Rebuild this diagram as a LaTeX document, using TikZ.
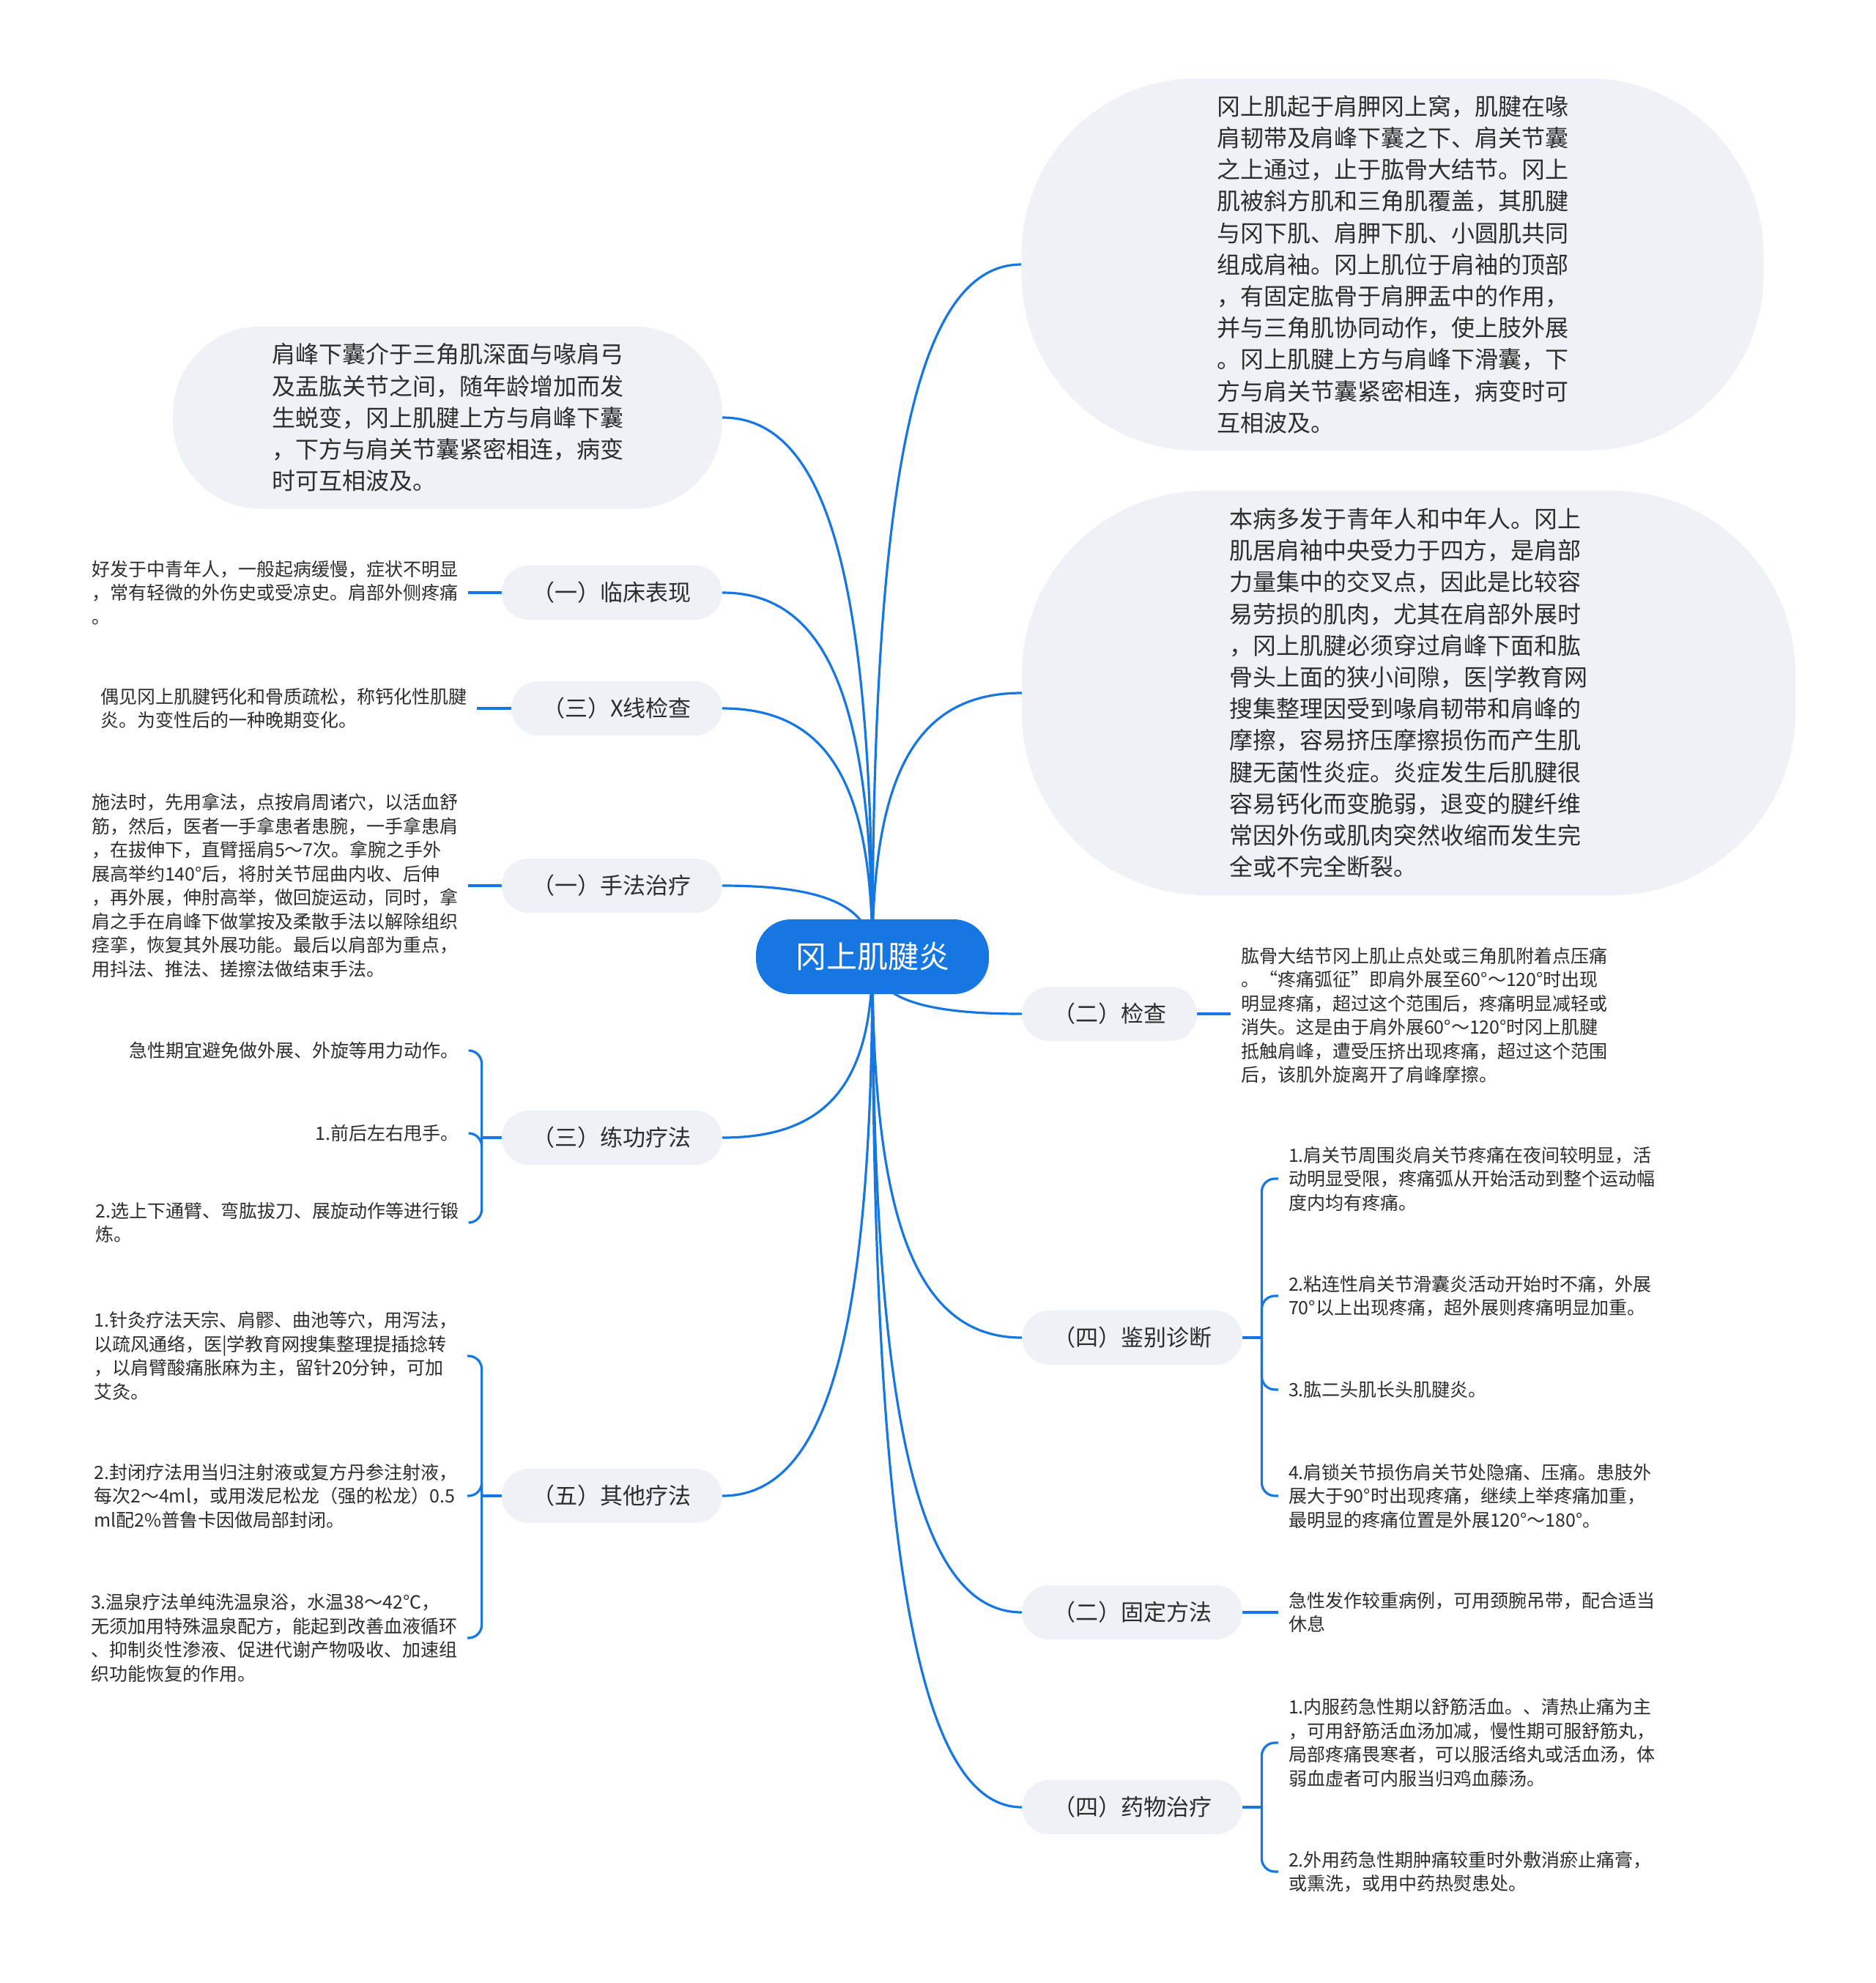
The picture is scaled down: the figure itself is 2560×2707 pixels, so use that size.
\documentclass[tikz,border=0pt]{standalone}
\usepackage{fontspec}
\setmainfont{Noto Sans CJK SC}
\usetikzlibrary{calc}
\definecolor{lineblue}{RGB}{22,119,226}
\definecolor{bubble}{RGB}{238,241,245}
\definecolor{txt}{RGB}{45,45,45}
\pgfdeclarelayer{bg}
\pgfsetlayers{bg,main}
\begin{document}
\begin{tikzpicture}[x=1pt,y=-1pt,
  rootnode/.style={fill=lineblue, rounded corners=48pt, minimum width=318pt, minimum height=102pt, text=white, font=\fontsize{42}{50}\selectfont},
  catnode/.style={fill=bubble, rounded corners=37pt, minimum height=74pt, inner xsep=42pt, inner ysep=0pt, text=txt, font=\fontsize{31}{37}\selectfont},
  bignode/.style={fill=bubble, align=left, text=txt, font=\fontsize{32}{43.2}\selectfont},
  leaf/.style={align=left, inner sep=0pt, outer xsep=14pt, text=txt, font=\fontsize{25}{32.5}\selectfont},
  conn/.style={draw=lineblue, line width=3.2pt},
  elbow/.style={to path={.. controls ($(\tikztostart)!0.7!(\tikztostart|-\tikztotarget)$) and ($(\tikztotarget)!0.7!(\tikztostart|-\tikztotarget)$) .. (\tikztotarget)}},
]
\begin{pgfonlayer}{bg}
\fill[white] (0,0) rectangle (2560,2707);
\end{pgfonlayer}
\useasboundingbox (0,0) rectangle (2560,2707);

% root
\node[rootnode] (root) at (1191,1306) {冈上肌腱炎};

% big bubbles
\node[bignode, minimum width=1013pt, minimum height=508pt, rounded corners=240pt] (r1) at (1901,361)
{冈上肌起于肩胛冈上窝，肌腱在喙\\肩韧带及肩峰下囊之下、肩关节囊\\之上通过，止于肱骨大结节。冈上\\肌被斜方肌和三角肌覆盖，其肌腱\\与冈下肌、肩胛下肌、小圆肌共同\\组成肩袖。冈上肌位于肩袖的顶部\\，有固定肱骨于肩胛盂中的作用，\\并与三角肌协同动作，使上肢外展\\。冈上肌腱上方与肩峰下滑囊，下\\方与肩关节囊紧密相连，病变时可\\互相波及。};

\node[bignode, minimum width=1056pt, minimum height=552pt, rounded corners=250pt] (r2) at (1923,946)
{本病多发于青年人和中年人。冈上\\肌居肩袖中央受力于四方，是肩部\\力量集中的交叉点，因此是比较容\\易劳损的肌肉，尤其在肩部外展时\\，冈上肌腱必须穿过肩峰下面和肱\\骨头上面的狭小间隙，医|学教育网\\搜集整理因受到喙肩韧带和肩峰的\\摩擦，容易挤压摩擦损伤而产生肌\\腱无菌性炎症。炎症发生后肌腱很\\容易钙化而变脆弱，退变的腱纤维\\常因外伤或肌肉突然收缩而发生完\\全或不完全断裂。};

\node[bignode, minimum width=750pt, minimum height=249pt, rounded corners=120pt] (l0) at (611,570)
{肩峰下囊介于三角肌深面与喙肩弓\\及盂肱关节之间，随年龄增加而发\\生蜕变，冈上肌腱上方与肩峰下囊\\，下方与肩关节囊紧密相连，病变\\时可互相波及。};

% category nodes left
\node[catnode, anchor=east] (c1) at (986,809) {（一）临床表现};
\node[catnode, anchor=east] (cx) at (986,967) {（三）X线检查};
\node[catnode, anchor=east] (cs) at (986,1209) {（一）手法治疗};
\node[catnode, anchor=east] (cl) at (986,1553) {（三）练功疗法};
\node[catnode, anchor=east] (cq) at (986,2042) {（五）其他疗法};
% category nodes right
\node[catnode, anchor=west] (c2) at (1395,1384) {（二）检查};
\node[catnode, anchor=west] (c4) at (1395,1826) {（四）鉴别诊断};
\node[catnode, anchor=west] (cg) at (1395,2201) {（二）固定方法};
\node[catnode, anchor=west] (cy) at (1395,2467) {（四）药物治疗};

% left leaves
\node[leaf, anchor=east] (t1) at (639,809) {好发于中青年人，一般起病缓慢，症状不明显\\，常有轻微的外伤史或受凉史。肩部外侧疼痛\\。};
\node[leaf, anchor=east] (tx) at (651,967) {偶见冈上肌腱钙化和骨质疏松，称钙化性肌腱\\炎。为变性后的一种晚期变化。};
\node[leaf, anchor=east] (ts) at (639,1209) {施法时，先用拿法，点按肩周诸穴，以活血舒\\筋，然后，医者一手拿患者患腕，一手拿患肩\\，在拔伸下，直臂摇肩5～7次。拿腕之手外\\展高举约140°后，将肘关节屈曲内收、后伸\\，再外展，伸肘高举，做回旋运动，同时，拿\\肩之手在肩峰下做掌按及柔散手法以解除组织\\痉挛，恢复其外展功能。最后以肩部为重点，\\用抖法、推法、搓擦法做结束手法。};
\node[leaf, anchor=east] (l1) at (640,1434) {急性期宜避免做外展、外旋等用力动作。};
\node[leaf, anchor=east] (l2) at (640,1547) {1.前后左右甩手。};
\node[leaf, anchor=east] (l3) at (640,1669) {2.选上下通臂、弯肱拔刀、展旋动作等进行锻\\炼。};
\node[leaf, anchor=east] (q1) at (638,1851) {1.针灸疗法天宗、肩髎、曲池等穴，用泻法，\\以疏风通络，医|学教育网搜集整理提插捻转\\，以肩臂酸痛胀麻为主，留针20分钟，可加\\艾灸。};
\node[leaf, anchor=east] (q2) at (638,2042) {2.封闭疗法用当归注射液或复方丹参注射液，\\每次2～4ml，或用泼尼松龙（强的松龙）0.5\\ml配2\%普鲁卡因做局部封闭。};
\node[leaf, anchor=east] (q3) at (638,2236) {3.温泉疗法单纯洗温泉浴，水温38～42℃，\\无须加用特殊温泉配方，能起到改善血液循环\\、抑制炎性渗液、促进代谢产物吸收、加速组\\织功能恢复的作用。};

% right leaves
\node[leaf, anchor=west] (t2) at (1680,1386) {肱骨大结节冈上肌止点处或三角肌附着点压痛\\。“疼痛弧征”即肩外展至60°～120°时出现\\明显疼痛，超过这个范围后，疼痛明显减轻或\\消失。这是由于肩外展60°～120°时冈上肌腱\\抵触肩峰，遭受压挤出现疼痛，超过这个范围\\后，该肌外旋离开了肩峰摩擦。};
\node[leaf, anchor=west] (d1) at (1745,1609) {1.肩关节周围炎肩关节疼痛在夜间较明显，活\\动明显受限，疼痛弧从开始活动到整个运动幅\\度内均有疼痛。};
\node[leaf, anchor=west] (d2) at (1745,1769) {2.粘连性肩关节滑囊炎活动开始时不痛，外展\\70°以上出现疼痛，超外展则疼痛明显加重。};
\node[leaf, anchor=west] (d3) at (1745,1897) {3.肱二头肌长头肌腱炎。};
\node[leaf, anchor=west] (d4) at (1745,2042) {4.肩锁关节损伤肩关节处隐痛、压痛。患肢外\\展大于90°时出现疼痛，继续上举疼痛加重，\\最明显的疼痛位置是外展120°～180°。};
\node[leaf, anchor=west] (tg) at (1745,2201) {急性发作较重病例，可用颈腕吊带，配合适当\\休息};
\node[leaf, anchor=west] (y1) at (1745,2379) {1.内服药急性期以舒筋活血。、清热止痛为主\\，可用舒筋活血汤加减，慢性期可服舒筋丸，\\局部疼痛畏寒者，可以服活络丸或活血汤，体\\弱血虚者可内服当归鸡血藤汤。};
\node[leaf, anchor=west] (y2) at (1745,2555) {2.外用药急性期肿痛较重时外敷消瘀止痛膏，\\或熏洗，或用中药热熨患处。};

% bracket points
\coordinate (bl) at ($(cl.west)+(-27,0)$);
\coordinate (bq) at ($(cq.west)+(-27,0)$);
\coordinate (b4) at ($(c4.east)+(26,0)$);
\coordinate (by) at ($(cy.east)+(26,0)$);

\begin{pgfonlayer}{bg}
% main connectors
\foreach \t in {r1.west, r2.west, c2.west, c4.west, cg.west, cy.west, l0.east, c1.east, cx.east, cs.east, cl.east, cq.east}
  \draw[conn, elbow] (root.center) to (\t);
% simple leaf connectors
\draw[conn] (c1.west) -- (t1.east);
\draw[conn] (cx.west) -- (tx.east);
\draw[conn] (cs.west) -- (ts.east);
\draw[conn] (c2.east) -- (c2.east-|t2.west);
\draw[conn] (cg.east) -- (tg.west);
% brackets
\draw[conn] (cl.west) -- (bl);
\foreach \n in {l1,l2,l3} \draw[conn, rounded corners=18pt] (bl) |- (\n.east);
\draw[conn] (cq.west) -- (bq);
\foreach \n in {q1,q2,q3} \draw[conn, rounded corners=18pt] (bq) |- (\n.east);
\draw[conn] (c4.east) -- (b4);
\foreach \n in {d1,d2,d3,d4} \draw[conn, rounded corners=18pt] (b4) |- (\n.west);
\draw[conn] (cy.east) -- (by);
\foreach \n in {y1,y2} \draw[conn, rounded corners=18pt] (by) |- (\n.west);
\end{pgfonlayer}
\end{tikzpicture}
\end{document}
